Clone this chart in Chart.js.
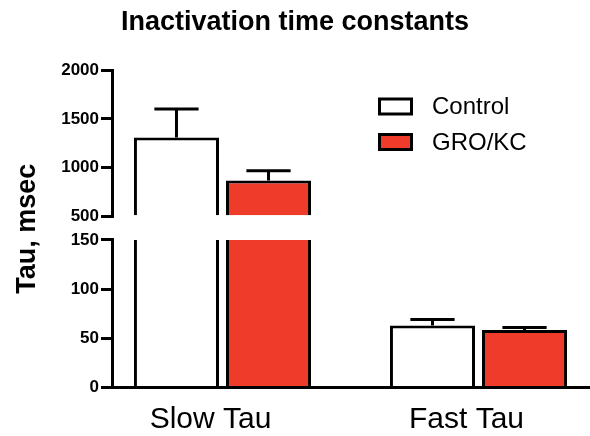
<!DOCTYPE html>
<html>
<head>
<meta charset="utf-8">
<title>Inactivation time constants</title>
<script src="https://cdn.jsdelivr.net/npm/chart.js@4/dist/chart.umd.min.js"></script>
<style>
  html, body { margin: 0; padding: 0; background: #ffffff; }
  #wrap { width: 590px; height: 436px; }
</style>
</head>
<body>
<div id="wrap"><canvas id="tau" width="590" height="436"></canvas></div>
<script>
// ---- data ----
const categories = ['Slow Tau', 'Fast Tau'];
const seriesNames = ['Control', 'GRO/KC'];
const controlMean = [1310, 63];
const controlSem = [290, 6];
const groMean = [870, 58.5];
const groSem = [100, 2.5];
const upperTicks = [500, 1000, 1500, 2000];
const lowerTicks = [0, 50, 100, 150];

// ---- styling ----
const FONT = "'Liberation Sans', Arial, Helvetica, sans-serif";
const INK = '#000000';
const seriesFill = ['#ffffff', '#EE3B2A'];

function toPoints(values) {
  return values.map((v, i) => ({ x: i, y: v }));
}

// Each series is drawn twice: once on the upper (500-2000) segment and once
// on the lower (0-150) segment of the broken value axis.
function seriesDatasets(name, means, sems, fill, stackId) {
  return [
    { axis: 'yUpper', base: upperTicks[0] },
    { axis: 'yLower', base: lowerTicks[0] }
  ].map(seg => ({
    label: name,
    data: toPoints(means),
    sem: sems,
    xAxisID: 'x',
    yAxisID: seg.axis,
    base: seg.base,
    stack: stackId,
    backgroundColor: fill,
    borderColor: INK,
    borderWidth: 3,
    borderSkipped: 'start',
    categoryPercentage: 0.719,
    barPercentage: 0.924
  }));
}

const datasets = [
  ...seriesDatasets(seriesNames[0], controlMean, controlSem, seriesFill[0], 'control'),
  ...seriesDatasets(seriesNames[1], groMean, groSem, seriesFill[1], 'gro')
];

// Clip every dataset to the band of its own value axis, so the bars break
// across the gap between the two segments.
const segmentClip = {
  id: 'segmentClip',
  beforeDatasetDraw(chart, args) {
    const s = args.meta.yScale;
    const a = chart.chartArea;
    const ctx = chart.ctx;
    ctx.save();
    ctx.beginPath();
    ctx.rect(a.left, s.top, a.right - a.left, s.bottom - s.top);
    ctx.clip();
  },
  afterDatasetDraw(chart) {
    chart.ctx.restore();
  }
};

// Upward SEM error bars, drawn on whichever segment holds the bar's error end.
const errorBars = {
  id: 'errorBars',
  afterDatasetsDraw(chart) {
    const ctx = chart.ctx;
    chart.data.datasets.forEach((ds, di) => {
      const meta = chart.getDatasetMeta(di);
      const s = meta.yScale;
      meta.data.forEach((bar, i) => {
        const v = ds.data[i].y;
        const end = v + ds.sem[i];
        if (end < s.min || end > s.max) return;
        const y0 = s.getPixelForValue(Math.max(v, s.min));
        const y1 = s.getPixelForValue(end);
        const half = bar.width * 0.26;
        ctx.save();
        ctx.strokeStyle = INK;
        ctx.lineWidth = 3;
        ctx.lineCap = 'butt';
        ctx.beginPath();
        ctx.moveTo(bar.x, y0);
        ctx.lineTo(bar.x, y1);
        ctx.moveTo(bar.x - half, y1);
        ctx.lineTo(bar.x + half, y1);
        ctx.stroke();
        ctx.restore();
      });
    });
  }
};

// Boxed legend placed inside the plot, upper right.
const boxLegend = {
  id: 'boxLegend',
  afterDraw(chart, args, opts) {
    const ctx = chart.ctx;
    ctx.save();
    ctx.font = '24px ' + FONT;
    ctx.textBaseline = 'middle';
    ctx.textAlign = 'left';
    seriesNames.forEach((name, i) => {
      const cy = opts.y + i * opts.spacing;
      const bx = opts.x, bw = 35, bh = 18;
      ctx.fillStyle = seriesFill[i];
      ctx.fillRect(bx, cy - bh / 2, bw, bh);
      ctx.lineWidth = 3;
      ctx.strokeStyle = INK;
      ctx.strokeRect(bx + 1.5, cy - bh / 2 + 1.5, bw - 3, bh - 3);
      ctx.fillStyle = INK;
      ctx.fillText(name, bx + 54, cy + 1);
    });
    ctx.restore();
  }
};

const tickFont = { family: FONT, size: 17, weight: 'bold' };

function valueAxis(ticksList, weight) {
  return {
    type: 'linear',
    position: 'left',
    stack: 'tau',
    stackWeight: weight,
    stacked: false,
    min: ticksList[0],
    max: ticksList[ticksList.length - 1],
    afterBuildTicks(scale) {
      scale.ticks = ticksList.map(v => ({ value: v }));
    },
    afterFit(scale) { scale.width = 65; },
    grid: {
      display: true,
      drawOnChartArea: false,
      drawTicks: true,
      tickLength: 11,
      tickWidth: 3,
      tickColor: INK,
      lineWidth: 3,
      color: INK
    },
    border: { display: true, color: INK, width: 3 },
    ticks: {
      color: INK,
      font: tickFont,
      padding: 2,
      autoSkip: false,
      callback: (value) => String(value)
    }
  };
}

new Chart(document.getElementById('tau'), {
  type: 'bar',
  data: { datasets },
  plugins: [segmentClip, errorBars, boxLegend],
  options: {
    responsive: false,
    animation: false,
    devicePixelRatio: 1,
    layout: { padding: 0 },
    scales: {
      x: {
        type: 'linear',
        position: 'bottom',
        offset: false,
        min: -0.4316,
        max: 1.4355,
        afterBuildTicks(scale) {
          scale.ticks = categories.map((c, i) => ({ value: i }));
        },
        afterFit(scale) { scale.height = 48.5; },
        grid: { display: false, drawTicks: false },
        border: { display: true, color: INK, width: 3, z: 1 },
        ticks: {
          autoSkip: false,
          maxRotation: 0,
          padding: 14,
          labelOffset: -12,
          color: INK,
          font: { family: FONT, size: 30 },
          callback: (value) => categories[value]
        }
      },
      yLower: valueAxis(lowerTicks, 147.6),
      yGap: {
        type: 'linear',
        position: 'left',
        stack: 'tau',
        stackWeight: 23.2,
        display: false
      },
      yUpper: valueAxis(upperTicks, 146.7),
      yTitle: {
        type: 'linear',
        position: 'left',
        weight: 10,
        display: true,
        afterFit(scale) { scale.width = 47; },
        grid: { display: false, drawTicks: false },
        border: { display: false },
        ticks: { display: false },
        title: {
          display: true,
          text: 'Tau, msec',
          color: INK,
          font: { family: FONT, size: 27, weight: 'bold' },
          padding: { top: 11, bottom: 0 }
        }
      }
    },
    plugins: {
      legend: { display: false },
      tooltip: { enabled: false },
      title: {
        display: true,
        text: 'Inactivation time constants',
        color: INK,
        font: { family: FONT, size: 27, weight: 'bold' },
        padding: { top: 6, bottom: 31.6 }
      },
      boxLegend: { x: 378, y: 106.5, spacing: 35.5 }
    }
  }
});
</script>
</body>
</html>
